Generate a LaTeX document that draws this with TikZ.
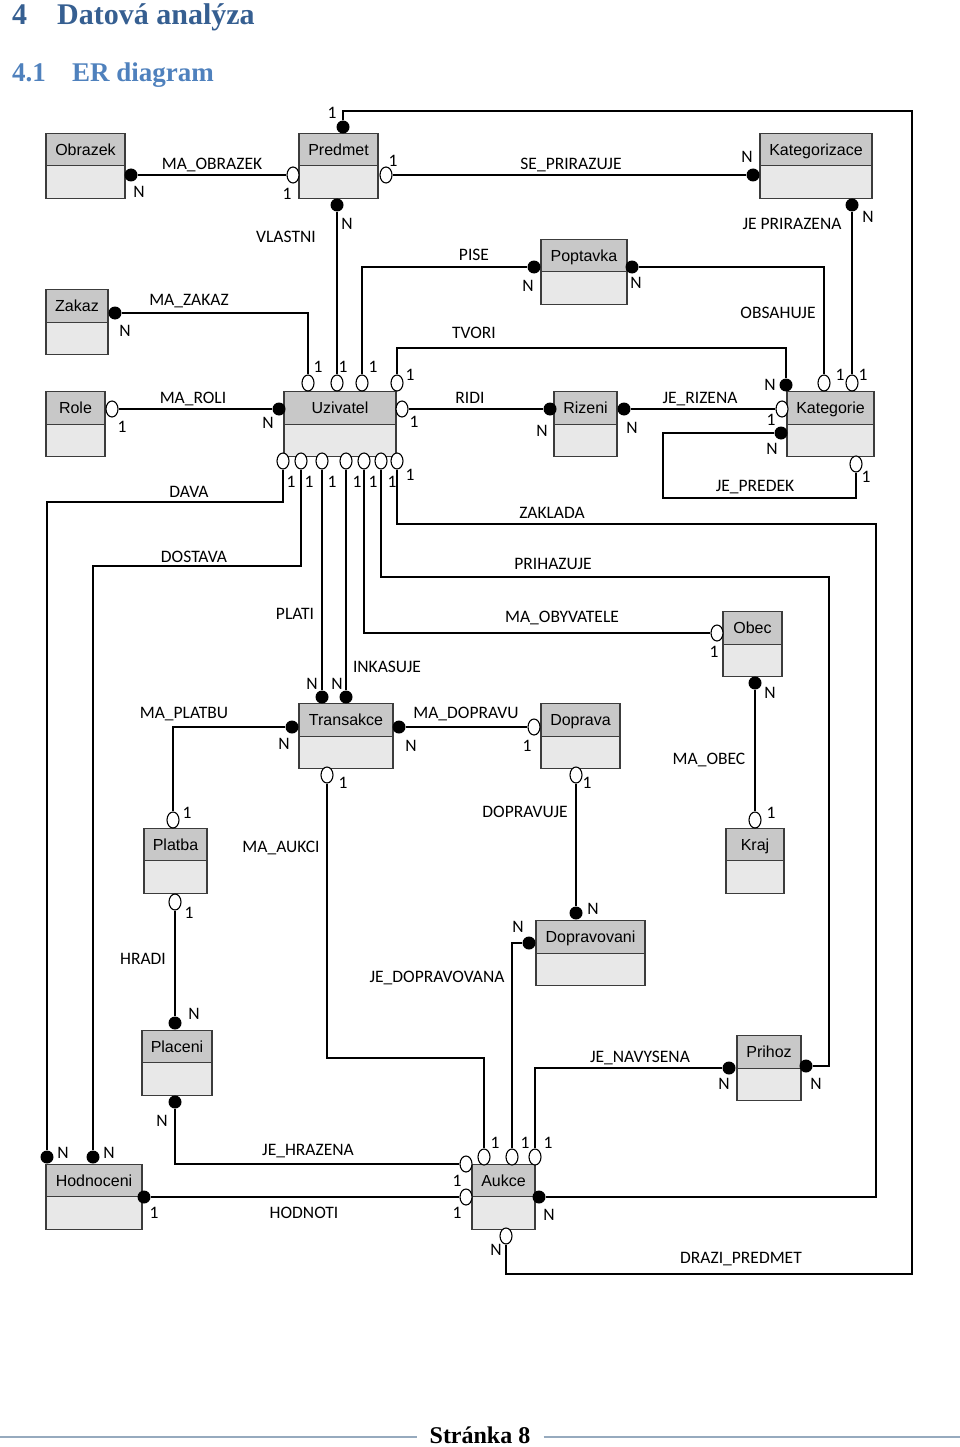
\documentclass[tikz,border=0pt]{standalone}
\usepackage{fontspec}
\setmainfont{Carlito}
\newfontfamily\entfont{Liberation Sans}
\newfontfamily\headfont{Liberation Serif}
\usepackage{xcolor}
\usetikzlibrary{shapes.geometric,positioning}

\definecolor{headgray}{RGB}{200,200,200}
\definecolor{bodygray}{RGB}{232,232,232}
\definecolor{edgegray}{RGB}{60,60,60}
\definecolor{hblue}{RGB}{54,95,145}
\definecolor{hlblue}{RGB}{79,129,189}
\definecolor{footline}{RGB}{150,170,190}

\begin{document}
\begin{tikzpicture}[x=1pt, y=-1pt,
    ehead/.style={draw=edgegray, line width=1.4pt, fill=headgray, minimum height=32.5pt, inner sep=0pt, outer sep=0pt, text height=11.5pt, text depth=0pt, font=\entfont\fontsize{16}{18}\selectfont},
    ebody/.style={draw=edgegray, line width=1.4pt, fill=bodygray, minimum height=32.5pt, inner sep=0pt, outer sep=0pt},
    opn/.style={ellipse, draw=black, line width=1.1pt, fill=white, minimum width=12pt, minimum height=16pt, inner sep=0pt},
    fil/.style={circle, fill=black, minimum size=13pt, inner sep=0pt},
    rel/.style={inner sep=0pt, text height=11.5pt, text depth=0pt, font=\fontsize{17.5}{20}\selectfont},
    card/.style={rel},
    conn/.style={line width=2.2pt}]
                \useasboundingbox (0,0) rectangle (960,1447);
                % headings
                \node[anchor=base west, inner sep=0pt, text=hblue, font=\headfont\bfseries\fontsize{30}{34}\selectfont] (h1n) at (12,25) {4};
                \node[anchor=base west, inner sep=0pt, text=hblue, font=\headfont\bfseries\fontsize{30}{34}\selectfont] (h1t) at (57,25) {Datová analýza};
                \node[anchor=base west, inner sep=0pt, text=hlblue, font=\headfont\bfseries\fontsize{27}{30}\selectfont] (h2n) at (12,82) {4.1};
                \node[anchor=base west, inner sep=0pt, text=hlblue, font=\headfont\bfseries\fontsize{27}{30}\selectfont] (h2t) at (72,82) {ER diagram};
                % entities
                \node[ehead, minimum width=79pt] (obrazek) at (85.5,149.5) {Obrazek};
                \node[ebody, minimum width=79pt, below=0pt of obrazek] (obrazekB) {};
                \node[ehead, minimum width=79pt] (predmet) at (338.5,149.5) {Predmet};
                \node[ebody, minimum width=79pt, below=0pt of predmet] (predmetB) {};
                \node[ehead, minimum width=112pt] (kategorizace) at (816,149.5) {Kategorizace};
                \node[ebody, minimum width=112pt, below=0pt of kategorizace] (kategorizaceB) {};
                \node[ehead, minimum width=86pt] (poptavka) at (584,255.5) {Poptavka};
                \node[ebody, minimum width=86pt, below=0pt of poptavka] (poptavkaB) {};
                \node[ehead, minimum width=62pt] (zakaz) at (77,306) {Zakaz};
                \node[ebody, minimum width=62pt, below=0pt of zakaz] (zakazB) {};
                \node[ehead, minimum width=59pt] (role) at (75.5,408) {Role};
                \node[ebody, minimum width=59pt, below=0pt of role] (roleB) {};
                \node[ehead, minimum width=112pt] (uzivatel) at (340,408) {Uzivatel};
                \node[ebody, minimum width=112pt, below=0pt of uzivatel] (uzivatelB) {};
                \node[ehead, minimum width=63pt] (rizeni) at (585.5,408) {Rizeni};
                \node[ebody, minimum width=63pt, below=0pt of rizeni] (rizeniB) {};
                \node[ehead, minimum width=87pt] (kategorie) at (830.5,408) {Kategorie};
                \node[ebody, minimum width=87pt, below=0pt of kategorie] (kategorieB) {};
                \node[ehead, minimum width=59pt] (obec) at (752.5,628) {Obec};
                \node[ebody, minimum width=59pt, below=0pt of obec] (obecB) {};
                \node[ehead, minimum width=94pt] (transakce) at (346,720) {Transakce};
                \node[ebody, minimum width=94pt, below=0pt of transakce] (transakceB) {};
                \node[ehead, minimum width=79pt] (doprava) at (580.5,720) {Doprava};
                \node[ebody, minimum width=79pt, below=0pt of doprava] (dopravaB) {};
                \node[ehead, minimum width=63pt] (platba) at (175.5,844.5) {Platba};
                \node[ebody, minimum width=63pt, below=0pt of platba] (platbaB) {};
                \node[ehead, minimum width=58pt] (kraj) at (755,844.5) {Kraj};
                \node[ebody, minimum width=58pt, below=0pt of kraj] (krajB) {};
                \node[ehead, minimum width=109pt] (dopravovani) at (590.5,937) {Dopravovani};
                \node[ebody, minimum width=109pt, below=0pt of dopravovani] (dopravovaniB) {};
                \node[ehead, minimum width=70pt] (placeni) at (177,1046.5) {Placeni};
                \node[ebody, minimum width=70pt, below=0pt of placeni] (placeniB) {};
                \node[ehead, minimum width=64pt] (prihoz) at (769,1052) {Prihoz};
                \node[ebody, minimum width=64pt, below=0pt of prihoz] (prihozB) {};
                \node[ehead, minimum width=96pt] (hodnoceni) at (94,1180.5) {Hodnoceni};
                \node[ebody, minimum width=96pt, below=0pt of hodnoceni] (hodnoceniB) {};
                \node[ehead, minimum width=63pt] (aukce) at (503.5,1180.5) {Aukce};
                \node[ebody, minimum width=63pt, below=0pt of aukce] (aukceB) {};
                % end markers
                \node[fil] (obE) at (131,175) {};
                \node[opn] (prW) at (293,175) {};
                \node[fil] (prT) at (343,127) {};
                \node[opn] (prE) at (386,175) {};
                \node[fil] (prS) at (337,205) {};
                \node[fil] (kzW) at (753,175) {};
                \node[fil] (kzS) at (852,205) {};
                \node[fil] (poW) at (534,267) {};
                \node[fil] (poE) at (632,267) {};
                \node[fil] (zaE) at (115,313) {};
                \node[opn] (roE) at (112,409) {};
                \node[fil] (uzW) at (279,409) {};
                \node[opn] (uzT1) at (308,383) {};
                \node[opn] (uzT2) at (337,383) {};
                \node[opn] (uzT3) at (362,383) {};
                \node[opn] (uzT4) at (397,383) {};
                \node[opn] (uzE) at (402,409) {};
                \node[opn] (uzB1) at (283,461) {};
                \node[opn] (uzB2) at (301,461) {};
                \node[opn] (uzB3) at (322,461) {};
                \node[opn] (uzB4) at (346,461) {};
                \node[opn] (uzB5) at (364,461) {};
                \node[opn] (uzB6) at (381,461) {};
                \node[opn] (uzB7) at (397,461) {};
                \node[fil] (riW) at (550,409) {};
                \node[fil] (riE) at (624,409) {};
                \node[fil] (kaT0) at (786,385) {};
                \node[opn] (kaW1) at (782,409) {};
                \node[fil] (kaW2) at (781,433) {};
                \node[opn] (kaT1) at (824,383) {};
                \node[opn] (kaT2) at (852,383) {};
                \node[opn] (kaS) at (856,464) {};
                \node[opn] (oeW) at (717,633) {};
                \node[fil] (oeS) at (755,683) {};
                \node[opn] (krN) at (755,820) {};
                \node[fil] (trT1) at (322,697) {};
                \node[fil] (trT2) at (346,697) {};
                \node[fil] (trW) at (292,727) {};
                \node[fil] (trE) at (399,727) {};
                \node[opn] (trS) at (327,775) {};
                \node[opn] (doW) at (534,727) {};
                \node[opn] (doS) at (576,775) {};
                \node[opn] (plN) at (173,820) {};
                \node[opn] (plS) at (175,902) {};
                \node[fil] (dvN) at (576,913) {};
                \node[fil] (dvW) at (529,943) {};
                \node[fil] (paN) at (175,1023) {};
                \node[fil] (paS) at (175,1102) {};
                \node[fil] (phW) at (729,1068) {};
                \node[fil] (phE) at (806,1066) {};
                \node[fil] (hoN1) at (47,1157) {};
                \node[fil] (hoN2) at (93,1157) {};
                \node[fil] (hoE) at (144,1197) {};
                \node[opn] (auW1) at (466,1164) {};
                \node[opn] (auW2) at (466,1197) {};
                \node[opn] (auT1) at (484,1157) {};
                \node[opn] (auT2) at (512,1157) {};
                \node[opn] (auT3) at (535,1157) {};
                \node[fil] (auE) at (539,1197) {};
                \node[opn] (auS) at (506,1236) {};
                % relationships
                \draw[conn] (obE) -- (prW);
                \draw[conn] (prE) -- (kzW);
                \draw[conn] (prT) |- (912,111) -- (912,1274) -| (auS);
                \draw[conn] (prS) -- (uzT2);
                \draw[conn] (zaE) -| (uzT1);
                \draw[conn] (uzT3) |- (poW);
                \draw[conn] (uzT4) |- (786,348) -- (kaT0);
                \draw[conn] (poE) -| (kaT1);
                \draw[conn] (kzS) -- (kaT2);
                \draw[conn] (roE) -- (uzW);
                \draw[conn] (uzE) -- (riW);
                \draw[conn] (riE) -- (kaW1);
                \draw[conn] (kaW2) -| (663,498) -| (kaS);
                \draw[conn] (uzB1) |- (47,502) -- (hoN1);
                \draw[conn] (uzB2) |- (93,566) -- (hoN2);
                \draw[conn] (uzB3) -- (trT1);
                \draw[conn] (uzB4) -- (trT2);
                \draw[conn] (uzB5) |- (oeW);
                \draw[conn] (uzB6) |- (829,577) |- (phE);
                \draw[conn] (uzB7) |- (876,524) |- (auE);
                \draw[conn] (oeS) -- (krN);
                \draw[conn] (trW) -| (plN);
                \draw[conn] (trE) -- (doW);
                \draw[conn] (trS) |- (484,1058) -- (auT1);
                \draw[conn] (doS) -- (dvN);
                \draw[conn] (dvW) -| (auT2);
                \draw[conn] (phW) -| (auT3);
                \draw[conn] (plS) -- (paN);
                \draw[conn] (paS) |- (auW1);
                \draw[conn] (hoE) -- (auW2);
                % relationship names
                \node[rel] (lObrazek) at (212,164) {MA\_OBRAZEK};
                \node[rel] (lPrirazuje) at (571,164) {SE\_PRIRAZUJE};
                \node[rel] (lVlastni) at (286,237) {VLASTNI};
                \node[rel] (lPise) at (474,255) {PISE};
                \node[rel] (lPrirazena) at (792,224) {JE PRIRAZENA};
                \node[rel] (lZakaz) at (189,300) {MA\_ZAKAZ};
                \node[rel] (lObsahuje) at (778,313) {OBSAHUJE};
                \node[rel] (lTvori) at (474,333) {TVORI};
                \node[rel] (lRoli) at (193,398) {MA\_ROLI};
                \node[rel] (lRidi) at (470,398) {RIDI};
                \node[rel] (lRizena) at (700,398) {JE\_RIZENA};
                \node[rel] (lPredek) at (755,486) {JE\_PREDEK};
                \node[rel] (lDava) at (189,492) {DAVA};
                \node[rel] (lZaklada) at (552,513) {ZAKLADA};
                \node[rel] (lDostava) at (194,557) {DOSTAVA};
                \node[rel] (lPrihazuje) at (553,564) {PRIHAZUJE};
                \node[rel] (lPlati) at (295,614) {PLATI};
                \node[rel] (lObyvatele) at (562,617) {MA\_OBYVATELE};
                \node[rel] (lInkasuje) at (387,667) {INKASUJE};
                \node[rel] (lPlatbu) at (184,713) {MA\_PLATBU};
                \node[rel] (lDopravu) at (466,713) {MA\_DOPRAVU};
                \node[rel] (lObec) at (709,759) {MA\_OBEC};
                \node[rel] (lDopravuje) at (525,812) {DOPRAVUJE};
                \node[rel] (lAukci) at (281,847) {MA\_AUKCI};
                \node[rel] (lHradi) at (143,959) {HRADI};
                \node[rel] (lDopravovana) at (437,977) {JE\_DOPRAVOVANA};
                \node[rel] (lNavysena) at (640,1057) {JE\_NAVYSENA};
                \node[rel] (lHrazena) at (308,1150) {JE\_HRAZENA};
                \node[rel] (lHodnoti) at (304,1213) {HODNOTI};
                \node[rel] (lDrazi) at (741,1258) {DRAZI\_PREDMET};
                % cardinalities
                \node[card] (c1) at (139,192) {N};
                \node[card] (c2) at (287,194) {1};
                \node[card] (c3) at (332,113) {1};
                \node[card] (c4) at (393,161) {1};
                \node[card] (c5) at (747,157) {N};
                \node[card] (c6) at (347,224) {N};
                \node[card] (c7) at (868,217) {N};
                \node[card] (c8) at (528,286) {N};
                \node[card] (c9) at (636,283) {N};
                \node[card] (c10) at (125,331) {N};
                \node[card] (c11) at (318,367) {1};
                \node[card] (c12) at (343,367) {1};
                \node[card] (c13) at (373,367) {1};
                \node[card] (c14) at (410,375) {1};
                \node[card] (c15) at (770,385) {N};
                \node[card] (c16) at (840,375) {1};
                \node[card] (c17) at (863,375) {1};
                \node[card] (c18) at (122,427) {1};
                \node[card] (c19) at (268,423) {N};
                \node[card] (c20) at (414,422) {1};
                \node[card] (c21) at (542,431) {N};
                \node[card] (c22) at (632,428) {N};
                \node[card] (c23) at (771,420) {1};
                \node[card] (c24) at (772,449) {N};
                \node[card] (c25) at (866,477) {1};
                \node[card] (c26) at (291,482) {1};
                \node[card] (c27) at (309,482) {1};
                \node[card] (c28) at (332,482) {1};
                \node[card] (c29) at (357,482) {1};
                \node[card] (c30) at (373,482) {1};
                \node[card] (c31) at (392,482) {1};
                \node[card] (c32) at (410,475) {1};
                \node[card] (c33) at (312,684) {N};
                \node[card] (c34) at (337,684) {N};
                \node[card] (c35) at (714,652) {1};
                \node[card] (c36) at (770,693) {N};
                \node[card] (c37) at (771,813) {1};
                \node[card] (c38) at (284,744) {N};
                \node[card] (c39) at (411,746) {N};
                \node[card] (c40) at (527,746) {1};
                \node[card] (c41) at (343,783) {1};
                \node[card] (c42) at (587,783) {1};
                \node[card] (c43) at (187,813) {1};
                \node[card] (c44) at (189,913) {1};
                \node[card] (c45) at (194,1014) {N};
                \node[card] (c46) at (593,909) {N};
                \node[card] (c47) at (518,927) {N};
                \node[card] (c48) at (724,1084) {N};
                \node[card] (c49) at (816,1084) {N};
                \node[card] (c50) at (162,1121) {N};
                \node[card] (c51) at (63,1153) {N};
                \node[card] (c52) at (109,1153) {N};
                \node[card] (c53) at (154,1213) {1};
                \node[card] (c54) at (457,1181) {1};
                \node[card] (c55) at (457,1213) {1};
                \node[card] (c56) at (495,1143) {1};
                \node[card] (c57) at (525,1143) {1};
                \node[card] (c58) at (548,1143) {1};
                \node[card] (c59) at (549,1215) {N};
                \node[card] (c60) at (496,1250) {N};
                % footer
                \node[inner sep=0pt, font=\headfont\bfseries\fontsize{24}{28}\selectfont] (foot) at (480,1435) {Stránka 8};
                \coordinate (footL) at (0,1437);
                \coordinate (footR) at (960,1437);
                \draw[footline, line width=2pt] (footL) -- ([xshift=-12pt]foot.west |- footL);
                \draw[footline, line width=2pt] ([xshift=13pt]foot.east |- footR) -- (footR);
            \end{tikzpicture}
\end{document}
